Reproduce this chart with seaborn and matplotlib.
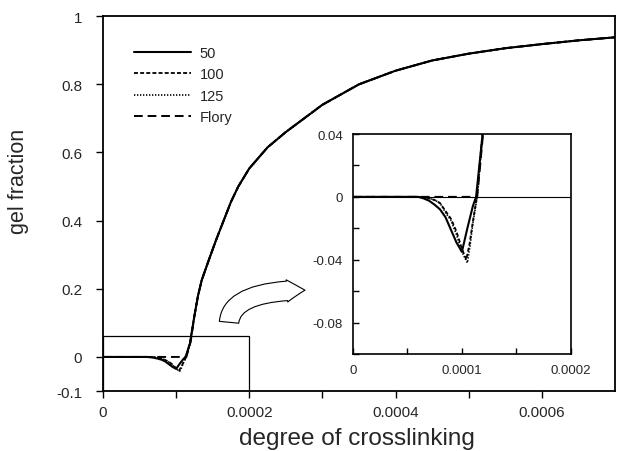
import numpy as np
import pandas as pd
import seaborn as sns
import matplotlib
matplotlib.use("Agg")
import matplotlib.pyplot as plt
from matplotlib.patches import Rectangle, FancyArrowPatch
from matplotlib.ticker import FixedLocator, FuncFormatter

# ---- data -------------------------------------------------------------
# common branch above the gel point (all series coincide here)
x_upper = [1.25e-4, 1.30e-4, 1.35e-4, 1.45e-4, 1.55e-4, 1.65e-4, 1.75e-4,
           1.85e-4, 2.00e-4, 2.25e-4, 2.50e-4, 3.00e-4, 3.50e-4, 4.00e-4,
           4.50e-4, 5.00e-4, 5.50e-4, 6.00e-4, 6.50e-4, 7.00e-4]
y_upper = [0.12, 0.18, 0.225, 0.286, 0.345, 0.40, 0.455,
           0.50, 0.553, 0.615, 0.660, 0.740, 0.800, 0.840,
           0.870, 0.890, 0.906, 0.918, 0.929, 0.938]

# near the gel point
x_50 = [0.0, 4.0e-5, 6.0e-5, 6.5e-5, 7.0e-5, 7.5e-5, 8.0e-5, 8.5e-5, 9.0e-5,
        9.5e-5, 1.0e-4, 1.05e-4, 1.10e-4, 1.13e-4, 1.16e-4, 1.19e-4]
y_50 = [0.0, 0.0, 0.0, -0.001, -0.0025, -0.005, -0.008, -0.013, -0.021,
        -0.029, -0.035, -0.020, -0.006, 0.0, 0.020, 0.040]

x_100 = [0.0, 4.0e-5, 6.5e-5, 7.0e-5, 7.5e-5, 8.0e-5, 8.5e-5, 9.0e-5, 9.5e-5,
         1.0e-4, 1.04e-4, 1.07e-4, 1.10e-4, 1.135e-4, 1.16e-4, 1.19e-4]
y_100 = [0.0, 0.0, 0.0, -0.001, -0.002, -0.004, -0.009, -0.014, -0.022,
         -0.033, -0.040, -0.030, -0.016, -0.001, 0.018, 0.041]

x_125 = [0.0, 4.0e-5, 6.5e-5, 7.0e-5, 7.5e-5, 8.0e-5, 8.5e-5, 9.0e-5, 9.5e-5,
         1.0e-4, 1.05e-4, 1.075e-4, 1.10e-4, 1.14e-4, 1.165e-4, 1.19e-4]
y_125 = [0.0, 0.0, 0.0, -0.001, -0.002, -0.004, -0.010, -0.015, -0.024,
         -0.035, -0.042, -0.031, -0.017, 0.0, 0.019, 0.040]

x_flory = [0.0, 1.14e-4, 1.17e-4, 1.20e-4]
y_flory = [0.0, 0.0, 0.022, 0.045]

labels = ["50", "100", "125", "Flory"]

frames = []
for name, xs, ys in [("50", x_50, y_50), ("100", x_100, y_100),
                     ("125", x_125, y_125), ("Flory", x_flory, y_flory)]:
    frames.append(pd.DataFrame({"x": list(xs) + x_upper,
                                "y": list(ys) + y_upper,
                                "series": name}))
df = pd.concat(frames, ignore_index=True)

# ---- style ------------------------------------------------------------
sns.set_theme(style="ticks")
plt.rcParams["font.family"] = ["Liberation Sans", "DejaVu Sans"]
plt.rcParams["axes.unicode_minus"] = False

dashes = {"50": "", "100": (2.2, 1.2), "125": (0.8, 1.0), "Flory": (4.5, 2.5)}
widths = {"50": 1.5, "100": 1.3, "125": 1.2, "Flory": 1.4}

fig = plt.figure(figsize=(6.2, 4.52), dpi=100)
ax = fig.add_axes([0.166, 0.1327, 0.826, 0.8293])

fmt = FuncFormatter(lambda v, p: "%g" % round(v, 8))


def draw_series(axis):
    for name in labels:
        sub = df[df["series"] == name]
        sns.lineplot(data=sub, x="x", y="y", ax=axis, color="black",
                     sort=False, estimator=None, lw=widths[name],
                     label=name, legend=False)
        line = axis.lines[-1]
        if dashes[name]:
            line.set_dashes(dashes[name])


draw_series(ax)

ax.set_xlim(0, 7e-4)
ax.set_ylim(-0.1, 1.0)
ax.xaxis.set_major_locator(FixedLocator([0, 2e-4, 4e-4, 6e-4]))
ax.xaxis.set_minor_locator(FixedLocator([1e-4, 3e-4, 5e-4]))
ax.yaxis.set_major_locator(FixedLocator([-0.1, 0, 0.2, 0.4, 0.6, 0.8, 1.0]))
ax.xaxis.set_major_formatter(fmt)
ax.yaxis.set_major_formatter(fmt)
ax.tick_params(which="both", direction="out", length=5, width=1.0,
               labelsize=11, color="black")
ax.tick_params(axis="y", pad=10)
ax.tick_params(axis="x", pad=5)
for sp in ax.spines.values():
    sp.set_linewidth(1.3)
    sp.set_color("black")

ax.set_xlabel("degree of crosslinking", fontsize=17.5)
ax.set_ylabel("gel fraction", fontsize=15.5)
ax.xaxis.set_label_coords(0.496, -0.095)
ax.xaxis.label.set_va("top")
ax.yaxis.set_label_coords(-0.165, 0.563)
ax.yaxis.label.set_va("center")

handles = ax.lines[:4]
ax.legend(handles, labels, loc="upper left", bbox_to_anchor=(0.035, 0.955),
          frameon=False, fontsize=10.5, handlelength=3.9, handletextpad=0.6,
          labelspacing=0.5)

# box marking the zoomed region
ax.add_patch(Rectangle((0, -0.1), 2e-4, 0.16, fill=False, ec="black",
                       lw=0.9, zorder=1))

# curved arrow pointing to the inset: leaves upward, arrives horizontally
arrow = FancyArrowPatch((0.246, 0.176), (0.400, 0.269),
                        transform=ax.transAxes,
                        connectionstyle="angle3,angleA=90,angleB=0",
                        arrowstyle="simple,head_length=13,head_width=16,tail_width=14",
                        mutation_scale=1, fc="white", ec="black", lw=0.8,
                        zorder=3)
ax.add_patch(arrow)

# ---- inset ------------------------------------------------------------
ins = fig.add_axes([0.569, 0.2146, 0.352, 0.4867])
ins.set_facecolor("white")
ins.axhline(0, color="black", lw=0.8, zorder=1)
draw_series(ins)
ins.set_xlim(0, 2e-4)
ins.set_ylim(-0.1, 0.04)
ins.xaxis.set_major_locator(FixedLocator([0, 1e-4, 2e-4]))
ins.xaxis.set_minor_locator(FixedLocator([5e-5, 1.5e-4]))
ins.yaxis.set_major_locator(FixedLocator([-0.08, -0.04, 0, 0.04]))
ins.yaxis.set_minor_locator(FixedLocator([-0.1, -0.06, -0.02, 0.02]))
ins.xaxis.set_major_formatter(fmt)
ins.yaxis.set_major_formatter(fmt)
ins.tick_params(which="both", direction="in", length=4, width=1.0,
                labelsize=9.5, color="black", pad=7)
ins.set_xlabel("")
ins.set_ylabel("")
for sp in ins.spines.values():
    sp.set_linewidth(1.2)
    sp.set_color("black")

fig.savefig("out.png", dpi=100)
